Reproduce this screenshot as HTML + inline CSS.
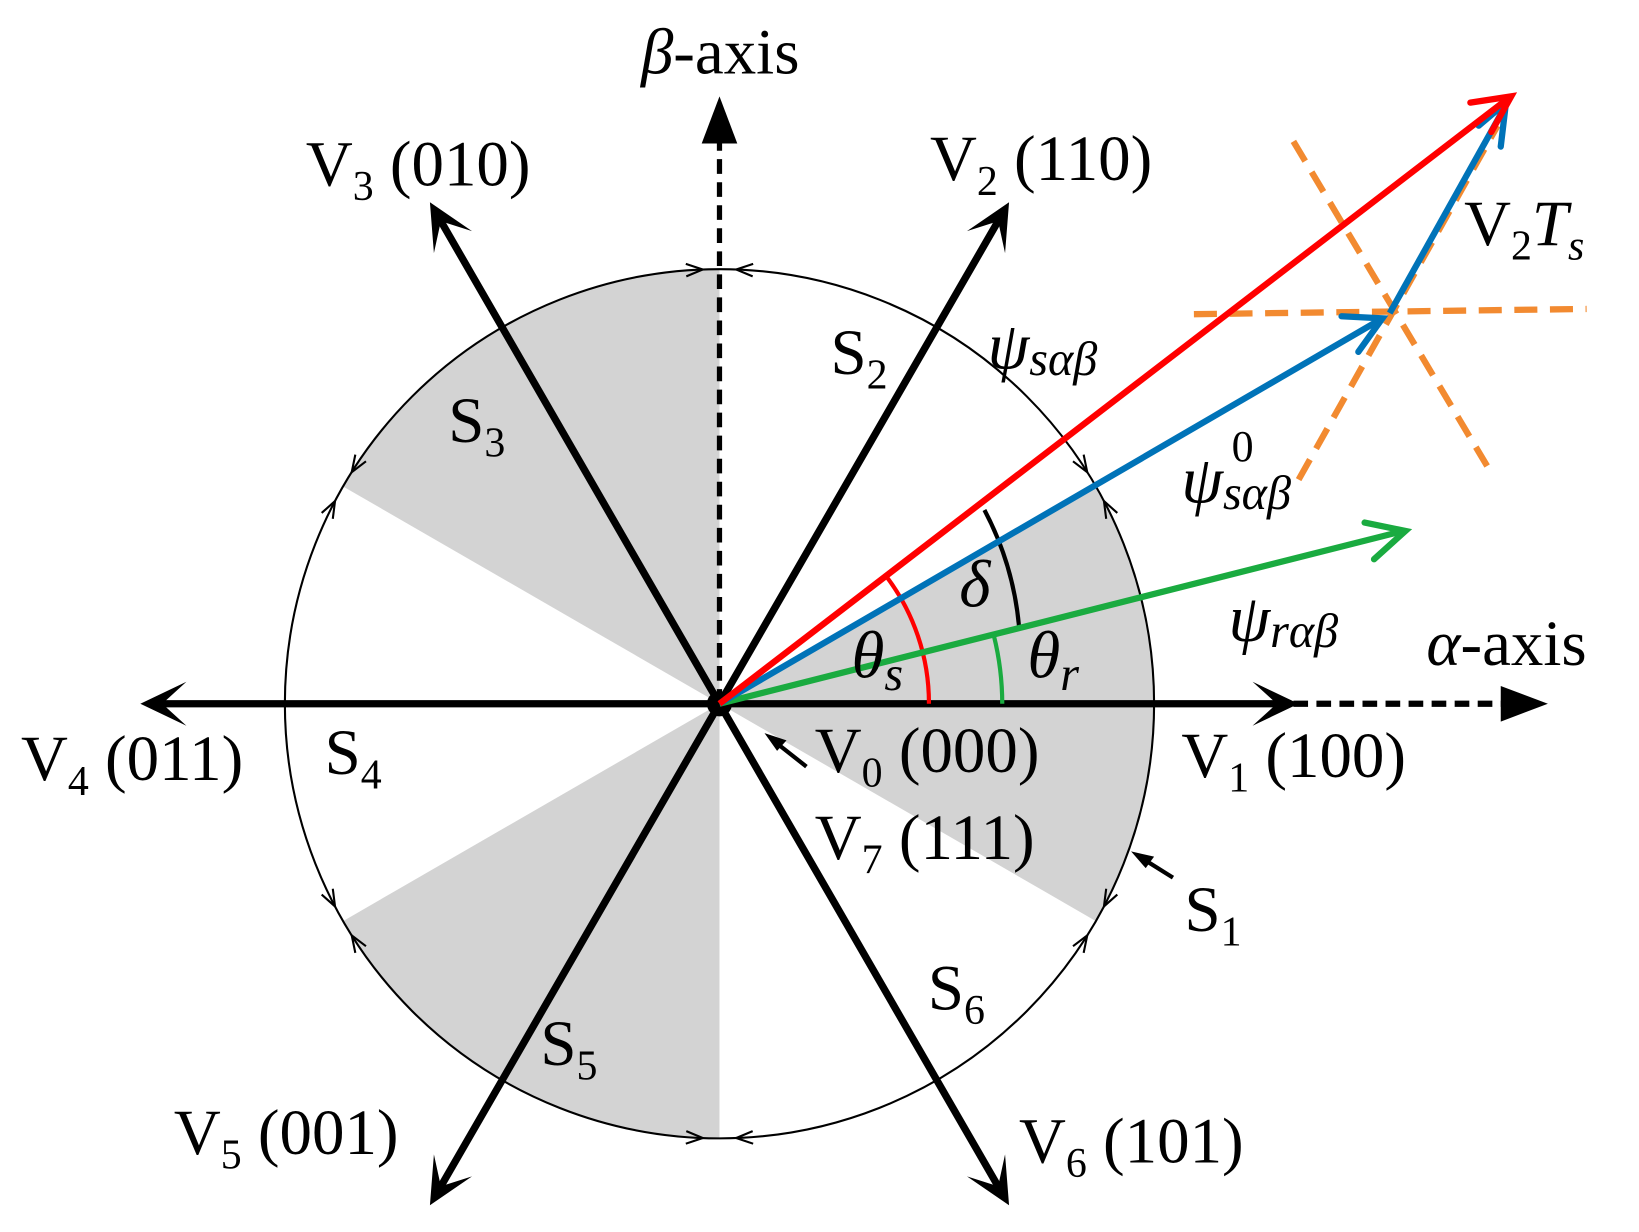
<!DOCTYPE html>
<html><head><meta charset="utf-8"><style>
html,body{margin:0;padding:0;background:#fff}
svg{display:block}
text{font-family:"Liberation Serif",serif;fill:#000}
</style></head><body>
<svg id="s" width="1639" height="1232" viewBox="0 0 1565 1176.4" xmlns="http://www.w3.org/2000/svg">
<g fill="#d3d3d3">
<path d="M687,672 L1046.4,464.5 A415,415 0 0 1 1046.4,879.5 Z"/>
<path d="M687,672 L687,257 A415,415 0 0 0 327.6,464.5 Z"/>
<path d="M687,672 L327.6,879.5 A415,415 0 0 0 687,1087 Z"/>
</g>
<circle cx="687" cy="672" r="415" fill="none" stroke="#000" stroke-width="2"/>
<g id="ticks" stroke="#000" stroke-width="2" fill="none"></g>
<line x1="687" y1="672" x2="687" y2="135" stroke="#000" stroke-width="5" stroke-dasharray="14,8"/>
<polygon points="687,92 670,137 704,137" fill="#000"/>
<line x1="1235" y1="672" x2="1440" y2="672" stroke="#000" stroke-width="6" stroke-dasharray="14,8"/>
<polygon points="1478,672 1433,655 1433,689" fill="#000"/>
<g id="hex" stroke="#000" stroke-width="7"></g>
<g id="heads" fill="#000"></g>
<circle cx="687" cy="672" r="12" fill="#000"/>
<g stroke="#f28a30" stroke-width="6" stroke-dasharray="22,12">
<line x1="1140" y1="300" x2="1515" y2="295"/>
<line x1="1235" y1="135" x2="1420" y2="445"/>
<line x1="1240" y1="458" x2="1430" y2="120"/>
</g>
<path d="M887,672 A200,200 0 0 0 846,550" fill="none" stroke="#f00" stroke-width="4"/>
<path d="M957,672 A270,270 0 0 0 949,607" fill="none" stroke="#1aab40" stroke-width="4"/>
<path d="M973,598 A295,295 0 0 0 940,487" fill="none" stroke="#000" stroke-width="4"/>
<line x1="687" y1="672" x2="1340" y2="507" stroke="#1aab40" stroke-width="6"/>
<polyline points="1303,499 1342,507 1312,534" fill="none" stroke="#1aab40" stroke-width="6" stroke-linecap="round"/>
<line x1="687" y1="672" x2="1320" y2="304" stroke="#0073b8" stroke-width="6"/>
<polyline points="1281,302 1320,304 1297,336" fill="none" stroke="#0073b8" stroke-width="6" stroke-linecap="round"/>
<line x1="1327" y1="299" x2="1437" y2="102" stroke="#0073b8" stroke-width="6"/>
<polyline points="1412,120 1438,98 1433,140" fill="none" stroke="#0073b8" stroke-width="6" stroke-linecap="round"/>
<line x1="687" y1="672" x2="1440" y2="94" stroke="#f00" stroke-width="6"/>
<polyline points="1404,98 1443,92 1424,126" fill="none" stroke="#f00" stroke-width="6" stroke-linecap="round"/>
<line x1="770" y1="732" x2="737" y2="706" stroke="#000" stroke-width="4"/>
<polygon points="730,700 751,707 742,717" fill="#000"/>
<line x1="1120" y1="838" x2="1088" y2="818" stroke="#000" stroke-width="4"/>
<polygon points="1080,813 1102,818 1094,829" fill="#000"/>
<g font-size="62">
<text x="612" y="70"><tspan font-style="italic">β</tspan>-axis</text>
<text x="1362" y="635"><tspan font-style="italic">α</tspan>-axis</text>
<text x="292" y="177">V<tspan font-size="40" dy="14">3</tspan><tspan dy="-14"> (010)</tspan></text>
<text x="888" y="172">V<tspan font-size="40" dy="14">2</tspan><tspan dy="-14"> (110)</tspan></text>
<text x="20" y="745">V<tspan font-size="40" dy="14">4</tspan><tspan dy="-14"> (011)</tspan></text>
<text x="1128" y="742">V<tspan font-size="40" dy="14">1</tspan><tspan dy="-14"> (100)</tspan></text>
<text x="778" y="737">V<tspan font-size="40" dy="14">0</tspan><tspan dy="-14"> (000)</tspan></text>
<text x="778" y="820">V<tspan font-size="40" dy="14">7</tspan><tspan dy="-14"> (111)</tspan></text>
<text x="166" y="1102">V<tspan font-size="40" dy="14">5</tspan><tspan dy="-14"> (001)</tspan></text>
<text x="973" y="1110">V<tspan font-size="40" dy="14">6</tspan><tspan dy="-14"> (101)</tspan></text>
<text x="793" y="357">S<tspan font-size="40" dy="14">2</tspan></text>
<text x="428" y="422">S<tspan font-size="40" dy="14">3</tspan></text>
<text x="310" y="739">S<tspan font-size="40" dy="14">4</tspan></text>
<text x="516" y="1017">S<tspan font-size="40" dy="14">5</tspan></text>
<text x="886" y="964">S<tspan font-size="40" dy="14">6</tspan></text>
<text x="1131" y="889">S<tspan font-size="40" dy="14">1</tspan></text>
<text x="1398" y="234">V<tspan font-size="40" dy="14">2</tspan><tspan dy="-14" font-style="italic">T</tspan><tspan font-size="40" dy="14" font-style="italic">s</tspan></text>
</g>
<g font-size="64" font-style="italic">
<text x="943" y="352">ψ<tspan font-size="46" dy="6">sαβ</tspan></text>
<text x="1128" y="480">ψ<tspan font-size="46" dy="6">sαβ</tspan></text>
<text x="1176" y="440" font-size="42" font-style="normal">0</text>
<text x="1173" y="612">ψ<tspan font-size="46" dy="6">rαβ</tspan></text>
<text x="916" y="579">δ</text>
<text x="813" y="647">θ<tspan font-size="46" dy="12">s</tspan></text>
<text x="981" y="647">θ<tspan font-size="46" dy="12">r</tspan></text>
</g>
</svg>
<script>
(function(){
var ns='http://www.w3.org/2000/svg',cx=687,cy=672;
var g=document.getElementById('ticks'),R=415;
[90,150,210,270,330,30].forEach(function(a){
 [-1,1].forEach(function(sg){
  var t=(a+sg*2.2)*Math.PI/180;
  var px=cx+R*Math.cos(t),py=cy-R*Math.sin(t);
  var dx=-Math.sin(t)*(-sg),dy=-Math.cos(t)*(-sg);
  var nx=-dy,ny=dx,L=16,W=6;
  var p=document.createElementNS(ns,'polyline');
  p.setAttribute('points',(px-dx*L+nx*W)+','+(py-dy*L+ny*W)+' '+px+','+py+' '+(px-dx*L-nx*W)+','+(py-dy*L-ny*W));
  g.appendChild(p);
 });
});
var hex=document.getElementById('hex'),hd=document.getElementById('heads');
var Lh=553;
[0,60,120,180,240,300].forEach(function(a){
 var t=a*Math.PI/180,dx=Math.cos(t),dy=-Math.sin(t);
 var Tx=cx+Lh*dx,Ty=cy+Lh*dy,nx=-dy,ny=dx,L=44,W=21;
 var l=document.createElementNS(ns,'line');
 l.setAttribute('x1',cx);l.setAttribute('y1',cy);
 l.setAttribute('x2',Tx-dx*20);l.setAttribute('y2',Ty-dy*20);
 hex.appendChild(l);
 var p=document.createElementNS(ns,'polygon');
 var pts=[[Tx,Ty],[Tx-dx*L+nx*W,Ty-dy*L+ny*W],[Tx-dx*L*0.55+nx*3,Ty-dy*L*0.55+ny*3],[Tx-dx*L*0.55-nx*3,Ty-dy*L*0.55-ny*3],[Tx-dx*L-nx*W,Ty-dy*L-ny*W]];
 p.setAttribute('points',pts.map(function(q){return q[0]+','+q[1];}).join(' '));
 hd.appendChild(p);
});
})();
</script>
</body></html>
